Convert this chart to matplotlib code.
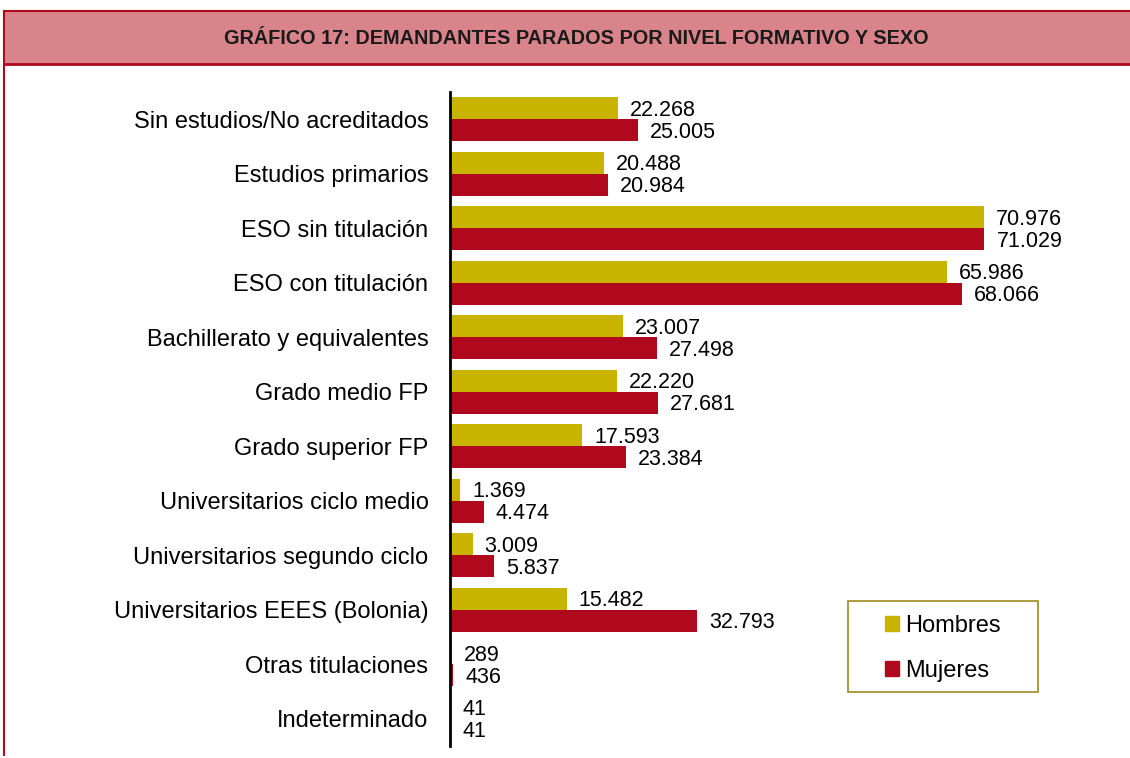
import matplotlib
matplotlib.use("Agg")
import matplotlib.pyplot as plt
from matplotlib.patches import Rectangle
from matplotlib.lines import Line2D
import numpy as np

categories = ["Sin estudios/No acreditados", "Estudios primarios", "ESO sin titulación",
              "ESO con titulación", "Bachillerato y equivalentes", "Grado medio FP",
              "Grado superior FP", "Universitarios ciclo medio", "Universitarios segundo ciclo",
              "Universitarios EEES (Bolonia)", "Otras titulaciones", "Indeterminado"]
hombres = [22268, 20488, 70976, 65986, 23007, 22220, 17593, 1369, 3009, 15482, 289, 41]
mujeres = [25005, 20984, 71029, 68066, 27498, 27681, 23384, 4474, 5837, 32793, 436, 41]
series_names = ["Hombres", "Mujeres"]
title = "GRÁFICO 17: DEMANDANTES PARADOS POR NIVEL FORMATIVO Y SEXO"

C_H = "#C8B400"
C_M = "#B0091E"
FONT = ["Liberation Sans", "DejaVu Sans"]

def fmt(v):
    return f"{v:,}".replace(",", ".")

W, H = 1130, 758
fig = plt.figure(figsize=(W / 100, H / 100), dpi=100)

# header band
fig.patches.append(Rectangle((4 / W, 1 - 64 / H), 1 - 4 / W, 53 / H, transform=fig.transFigure,
                             facecolor="#D9838A", edgecolor="none", zorder=0))
fig.add_artist(Line2D([4 / W, 1], [1 - 11 / H, 1 - 11 / H], color="#B0091E", lw=1.5))
fig.add_artist(Line2D([4 / W, 1], [1 - 64 / H, 1 - 64 / H], color="#B0091E", lw=2))
fig.add_artist(Line2D([4 / W, 4 / W], [1 - 11 / H, 1 - 755 / H], color="#B0091E", lw=1.5))
fig.text(576 / W, 1 - 38 / H, title, ha="center", va="center", fontsize=14.3, fontweight="bold",
         family=FONT, color="#1a1a1a")

ax = fig.add_axes([450 / W, 12 / H, 602 / W, 654 / H])
n = len(categories)
y = np.arange(n)
h = 0.4
ax.barh(y - h / 2, hombres, height=h, color=C_H, label=series_names[0])
ax.barh(y + h / 2, mujeres, height=h, color=C_M, label=series_names[1])
ax.set_xlim(0, 80000)
ax.set_ylim(n - 0.5, -0.5)
ax.set_yticks(y)
ax.set_yticklabels(categories, family=FONT, fontsize=17)
ax.tick_params(axis="y", length=0, pad=15.5)
ax.set_xticks([])
for s in ["top", "right", "bottom"]:
    ax.spines[s].set_visible(False)
ax.spines["left"].set_linewidth(2)
ax.spines["left"].set_color("black")

for i in range(n):
    ax.annotate(fmt(hombres[i]), (hombres[i], y[i] - h / 2), xytext=(12, -2), textcoords="offset pixels",
                va="center", ha="left", fontsize=15.5, family=FONT)
    ax.annotate(fmt(mujeres[i]), (mujeres[i], y[i] + h / 2), xytext=(12, -2), textcoords="offset pixels",
                va="center", ha="left", fontsize=15.5, family=FONT)

# legend frame drawn as a figure patch, legend entries without frame
fig.patches.append(Rectangle((848 / W, 1 - 692 / H), 190 / W, 91 / H, transform=fig.transFigure,
                             facecolor="white", edgecolor="#A08A20", lw=1.2, zorder=2))
leg = fig.legend(handles=[Rectangle((0, 0), 1, 1, color=C_H), Rectangle((0, 0), 1, 1, color=C_M)],
                 labels=series_names, loc="center", bbox_to_anchor=(943 / W, 1 - 648.5 / H),
                 bbox_transform=fig.transFigure, frameon=False,
                 prop={"family": FONT, "size": 17}, handlelength=0.6, handleheight=0.6,
                 handletextpad=0.25, labelspacing=1.0, borderpad=0, borderaxespad=0)
leg.set_zorder(3)

fig.savefig("out.png", dpi=100)
